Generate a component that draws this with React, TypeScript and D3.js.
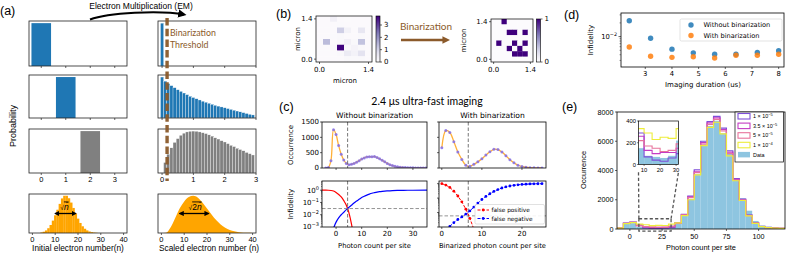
import React from 'react';
import * as d3 from 'd3';

const SANS = "'Liberation Sans', Arial, Helvetica, sans-serif";
const DV = "'DejaVu Sans', Verdana, sans-serif";
const CAL = "Lato, 'Open Sans', sans-serif";

// ---------------- panel (a) data ----------------
const aInitialN = [0, 1, 2];
const aInitialP = [1, 1, 1];
const aTicks03 = [0, 1, 2, 3];
const aScaledCenters = [0, 0.1, 0.2, 0.3, 0.4, 0.5, 0.6, 0.7, 0.8, 0.9, 1.0, 1.1, 1.2, 1.3, 1.4, 1.5, 1.6, 1.7, 1.8, 1.9, 2.0, 2.1, 2.2, 2.3, 2.4, 2.5, 2.6, 2.7, 2.8, 2.9];
const aScaledBinWidth = 0.1;
const aScaledRow1 = [1.0];
const aScaledRow2 = [1.0, 0.9, 0.84, 0.79, 0.74, 0.69, 0.65, 0.61, 0.57, 0.53, 0.5, 0.47, 0.44, 0.41, 0.385, 0.36, 0.335, 0.31, 0.29, 0.27, 0.25, 0.23, 0.21, 0.19, 0.17, 0.15, 0.13, 0.11, 0.09, 0.075];
const aScaledRow3 = [0, 0.25, 0.45, 0.6, 0.73, 0.82, 0.9, 0.95, 0.98, 0.995, 1.0, 0.995, 0.98, 0.96, 0.94, 0.91, 0.88, 0.84, 0.81, 0.77, 0.74, 0.7, 0.66, 0.63, 0.59, 0.56, 0.53, 0.49, 0.46, 0.43];
const aThreshold = 0.16;
const aPoissonN = [4, 5, 6, 7, 8, 9, 10, 11, 12, 13, 14, 15, 16, 17, 18, 19, 20, 21, 22, 23, 24, 25, 26, 27, 28];
const aPoissonP = [0.0016, 0.0036, 0.0073, 0.0136, 0.0228, 0.0353, 0.0504, 0.0663, 0.0829, 0.0984, 0.106, 0.106, 0.0989, 0.0866, 0.0713, 0.0554, 0.0409, 0.0286, 0.0191, 0.0121, 0.0074, 0.0043, 0.0024, 0.0013, 0.0007];
const aGainN = [0, 2, 4, 6, 8, 10, 12, 14, 16, 18, 20, 22, 24, 26, 28, 30, 32, 34, 36, 38, 40];
const aGainP = [0, 0.005, 0.15, 0.4, 0.66, 0.85, 0.97, 1.0, 0.95, 0.82, 0.66, 0.5, 0.35, 0.23, 0.14, 0.08, 0.045, 0.02, 0.01, 0.004, 0];
const aTicks40 = [0, 10, 20, 30, 40];
const aWidthLeft = [10, 19];
const aWidthRight = [8, 20.7];

// ---------------- panel (b) data ----------------
const bRaw = [
  [0.05, 0.05, 0.35, 0.05, 0.03, 0.05, 0.05, 0.05],
  [0.05, 0.05, 0.05, 0.08, 0.05, 0.05, 0.05, 0.05],
  [0.05, 0.05, 0.05, 1.1, 0.3, 0.05, 0.6, 0.05],
  [0.05, 0.05, 0.08, 0.1, 0.05, 0.05, 0.1, 0.05],
  [0.05, 1.4, 0.05, 0.1, 0.35, 0.1, 1.3, 0.05],
  [0.05, 0.05, 0.1, 3.7, 0.1, 0.25, 0.1, 0.05],
  [0.05, 0.05, 0.05, 0.1, 0.5, 0.3, 0.7, 0.05],
  [0.05, 0.05, 0.05, 0.05, 0.1, 0.1, 0.1, 0.05],
];
const bBinary = [
  [0, 0, 1, 0, 0, 0, 0, 0],
  [0, 0, 0, 0, 0, 0, 0, 0],
  [0, 0, 0, 1, 1, 0, 1, 0],
  [0, 0, 0, 0, 0, 0, 0, 0],
  [0, 1, 0, 0, 1, 0, 1, 0],
  [0, 0, 0, 1, 0, 1, 0, 0],
  [0, 0, 0, 0, 1, 1, 1, 0],
  [0, 0, 0, 0, 0, 0, 0, 0],
];
const bRawMax = 3.73;
const bMicronTicks = [0, 1.4];
const bCbarTicks1 = [0, 1, 2, 3];
const bCbarTicks2 = [0, 1];

// ---------------- panel (c) data ----------------
const cLeftX = [-4, -3, -2, -1, 0, 1, 2, 3, 4, 5, 6, 7, 8, 9, 10, 11, 12, 13, 14, 15, 16, 17, 18, 19, 20, 21, 22, 23, 24, 25, 26, 27, 28, 29, 30, 31, 32, 33, 34, 35];
const cLeftOcc = [0, 20, 240, 1250, 1090, 730, 450, 260, 150, 110, 120, 150, 190, 240, 290, 330, 360, 370, 365, 375, 340, 300, 250, 200, 150, 110, 80, 55, 40, 28, 20, 14, 10, 7, 5, 4, 3, 2, 2, 1];
const cRightX = [0, 1, 2, 3, 4, 5, 6, 7, 8, 9, 10, 11, 12, 13, 14, 15, 16, 17, 18, 19, 20, 21, 22, 23, 24, 25];
const cRightOcc = [660, 1220, 1160, 860, 520, 280, 90, 55, 120, 200, 300, 420, 530, 610, 600, 520, 400, 270, 170, 90, 50, 25, 12, 6, 3, 1];
const cLeftFpX = [-5.5, -5, -4, -3, -2, -1, 0, 1, 2, 3, 4, 5, 6, 6.5];
const cLeftFp = [1, 1, 1, 0.99, 0.95, 0.85, 0.65, 0.45, 0.28, 0.14, 0.06, 0.015, 0.0018, 0.0005];
const cLeftFnX = [-1, 0, 1, 2, 3, 4, 5, 6, 7, 8, 9, 10, 11, 12, 13, 14, 15, 16, 17, 18, 19, 20, 22, 24, 26, 28, 30, 35.5];
const cLeftFn = [0.0008, 0.0025, 0.0055, 0.01, 0.016, 0.026, 0.04, 0.06, 0.09, 0.13, 0.18, 0.25, 0.32, 0.4, 0.48, 0.56, 0.63, 0.7, 0.76, 0.81, 0.85, 0.88, 0.93, 0.96, 0.98, 0.99, 0.995, 1.0];
const cRightFpX = [0, 1, 2, 3, 4, 5, 6, 7, 8];
const cRightFp = [1.0, 0.8, 0.55, 0.3, 0.14, 0.055, 0.017, 0.004, 0.0007];
const cRightFnX = [2, 3, 4, 5, 6, 7, 8, 9, 10, 11, 12, 13, 14, 15, 16, 17, 18, 19, 20, 21, 22, 23, 24, 25];
const cRightFn = [0.0011, 0.002, 0.0033, 0.005, 0.0078, 0.013, 0.024, 0.045, 0.08, 0.13, 0.2, 0.29, 0.39, 0.5, 0.6, 0.69, 0.77, 0.83, 0.88, 0.92, 0.95, 0.97, 0.98, 0.99];
const cLeftThreshold = 4.5;
const cRightThreshold = 6.6;
const cLeftInfidelity = 0.032;
const cRightInfidelity = 0.0059;
const cOccTicks = [0, 500, 1000, 1500];
const cLeftXTicks = [0, 10, 20, 30];
const cRightXTicks = [0, 10, 20];
const cLogTicks = [1, 0.1, 0.01, 0.001];
const cLogLabels = ['0', '−1', '−2', '−3'];

// ---------------- panel (d) data ----------------
const dDuration = [2.4, 3.2, 4.0, 4.8, 5.6, 6.4, 7.2, 8.0];
const dWithout = [0.0223, 0.0092, 0.0053, 0.0044, 0.0041, 0.0041, 0.0045, 0.0049];
const dWith = [0.0059, 0.0037, 0.0035, 0.0036, 0.0034, 0.0039, 0.0039, 0.0041];
const dXTicks = [3, 4, 5, 6, 7, 8];
const dMinorTicks = [0.003, 0.004, 0.005, 0.006, 0.007, 0.008, 0.009, 0.02, 0.03];

// ---------------- panel (e) data ----------------
const eBinEdges = [-10, -5, 0, 5, 10, 15, 20, 25, 30, 35, 40, 45, 50, 55, 60, 65, 70, 75, 80, 85, 90, 95, 100, 105, 110, 115, 120];
const eData = [60, 350, 400, 150, 80, 70, 60, 80, 220, 380, 900, 2050, 3750, 5750, 7050, 7400, 6550, 5150, 3450, 2100, 1250, 550, 230, 150, 80, 50];
const eModel1 = [60, 400, 470, 290, 70, 40, 30, 60, 100, 420, 1000, 2250, 4050, 6000, 7350, 7700, 6900, 5350, 3450, 2050, 950, 420, 180, 110, 60, 40];
const eModel2 = [60, 390, 460, 260, 130, 100, 110, 110, 150, 400, 980, 2200, 3950, 5900, 7250, 7600, 6800, 5250, 3400, 2000, 930, 410, 170, 100, 60, 40];
const eModel3 = [60, 380, 450, 220, 170, 150, 120, 130, 190, 390, 960, 2150, 3850, 5800, 7150, 7500, 6700, 5150, 3350, 1980, 920, 400, 170, 100, 60, 40];
const eModel4 = [60, 370, 440, 330, 290, 230, 250, 240, 330, 420, 920, 2000, 3700, 5700, 6950, 7300, 6500, 5000, 3300, 1950, 900, 390, 160, 100, 60, 40];
const eModelLabels = [['1', '−5'], ['3.5', '−5'], ['5', '−5'], ['1', '−4']];
const eXTicks = [0, 25, 50, 75, 100];
const eYTicks = [0, 2000, 4000, 6000, 8000];
const eInsetXTicks = [10, 20, 30];
const eInsetYTicks = [0, 200, 400];
const eZoomBox = [7, 32, -150, 700];

// ---------------- helpers ----------------
const Pow = ({ x, y, exp, fs, anchor = 'end', font = DV }: any) => (
  <text x={x} y={y} fontSize={fs} textAnchor={anchor} dy="0.35em" fontFamily={font}>
    10<tspan fontSize={fs * 0.72} dy={-fs * 0.45}>{exp}</tspan>
  </text>
);

function stepPath(edges: number[], vals: number[], x: any, y: any) {
  const pts: [number, number][] = [[x(edges[0]), y(0)]];
  vals.forEach((v, i) => {
    pts.push([x(edges[i]), y(v)]);
    pts.push([x(edges[i + 1]), y(v)]);
  });
  pts.push([x(edges[edges.length - 1]), y(0)]);
  return d3.line()(pts) || '';
}

// ---------------- panel (a) ----------------
function PanelA() {
  const xL = d3.scaleLinear().domain([-0.5, 3.5]).range([29, 127]);
  const xR = d3.scaleLinear().domain([-0.13, 3.0]).range([158, 256]);
  const rows = [[21, 66], [75, 118], [129, 173]];
  const yRows = rows.map(([t, b]) => d3.scaleLinear().domain([0, 1.05]).range([b, t]));
  const x4L = d3.scaleLinear().domain([-1.5, 41.5]).range([29, 127]);
  const x4R = d3.scaleLinear().domain([-1.5, 41.5]).range([158, 256]);
  const r4 = [194, 233];
  const y4L = d3.scaleLinear().domain([0, 0.111]).range([r4[1], r4[0]]);
  const y4R = d3.scaleLinear().domain([0, 1.05]).range([r4[1], r4[0]]);
  const rightData = [aScaledRow1, aScaledRow2, aScaledRow3];
  const leftColors = ['#1f77b4', '#1f77b4', '#808080'];
  const rightColors = ['#1f77b4', '#1f77b4', '#808080'];
  const gainArea = d3.area<number>()
    .x((d, i) => x4R(aGainN[i])).y0(y4R(0)).y1(d => y4R(d)).curve(d3.curveMonotoneX);
  const fs = 7.5;
  const arrowY4 = (r4[0] + r4[1]) / 2;
  return (
    <g fontFamily={SANS}>
      <defs>
        <marker id="ahBlack" viewBox="0 0 10 10" refX="7" refY="5" markerWidth="4.2" markerHeight="4.2" orient="auto">
          <path d="M0,0 L10,5 L0,10 z" fill="#000" />
        </marker>
        <marker id="ahSmall" viewBox="0 0 10 10" refX="8" refY="5" markerWidth="4" markerHeight="4" orient="auto-start-reverse">
          <path d="M0,0 L10,5 L0,10 z" fill="#000" />
        </marker>
      </defs>
      <text x={0} y={15} fontSize={12.5}>(a)</text>
      <text x={141} y={8.5} fontSize={8.5} textAnchor="middle">Electron Multiplication (EM)</text>
      <path d="M90,19.5 C108,12.5 160,10 184,14.5" fill="none" stroke="#000" strokeWidth={2} markerEnd="url(#ahBlack)" />
      <text transform="translate(16,126) rotate(-90)" fontSize={9} textAnchor="middle">Probability</text>

      {rows.map(([t, b], r) => (
        <g key={'L' + r}>
          <rect x={xL(aInitialN[r] - 0.4)} width={xL(0.8) - xL(0)} y={yRows[r](aInitialP[r])}
            height={yRows[r](0) - yRows[r](aInitialP[r])} fill={leftColors[r]} />
          <rect x={29} y={t} width={98} height={b - t} fill="none" stroke="#222" strokeWidth={0.8} />
          {aTicks03.map(tk => (
            <line key={tk} x1={xL(tk)} x2={xL(tk)} y1={b} y2={b + 2} stroke="#222" strokeWidth={0.7} />
          ))}
          {r === 2 && aTicks03.map(tk => (
            <text key={'t' + tk} x={xL(tk)} y={b + 9} fontSize={fs} textAnchor="middle">{tk}</text>
          ))}
        </g>
      ))}

      {rows.map(([t, b], r) => (
        <g key={'R' + r}>
          {rightData[r].map((v, i) => (
            <rect key={i} x={xR(aScaledCenters[i] - aScaledBinWidth / 2)} width={xR(aScaledBinWidth) - xR(0)}
              y={yRows[r](v)} height={yRows[r](0) - yRows[r](v)} fill={rightColors[r]} stroke="#fff" strokeWidth={0.3} />
          ))}
          <rect x={158} y={t} width={98} height={b - t} fill="none" stroke="#222" strokeWidth={0.8} />
          {aTicks03.map(tk => (
            <line key={tk} x1={xR(tk)} x2={xR(tk)} y1={b} y2={b + 2} stroke="#222" strokeWidth={0.7} />
          ))}
          {r === 2 && aTicks03.map(tk => (
            <text key={'t' + tk} x={xR(tk)} y={b + 9} fontSize={fs} textAnchor="middle">{tk}</text>
          ))}
        </g>
      ))}
      <line x1={xR(aThreshold)} x2={xR(aThreshold)} y1={18} y2={181} stroke="#8b5a2b" strokeWidth={3.4} strokeDasharray="7.5,3.2" opacity={0.95} />
      <text x={170} y={36} fontSize={8.8} fill="#8b5a2b" fontFamily={CAL}>Binarization</text>
      <text x={170} y={47.5} fontSize={8.8} fill="#8b5a2b" fontFamily={CAL}>Threshold</text>

      {/* row 4 left */}
      {aPoissonP.map((p, i) => (
        <rect key={i} x={x4L(aPoissonN[i] - 0.5)} width={x4L(1) - x4L(0) + 0.2} y={y4L(p)} height={y4L(0) - y4L(p)} fill="#ffa500" />
      ))}
      <rect x={29} y={r4[0]} width={98} height={r4[1] - r4[0]} fill="none" stroke="#222" strokeWidth={0.8} />
      {aTicks40.map(tk => (
        <g key={tk}>
          <line x1={x4L(tk)} x2={x4L(tk)} y1={r4[1]} y2={r4[1] + 2} stroke="#222" strokeWidth={0.7} />
          <text x={x4L(tk)} y={r4[1] + 9} fontSize={fs} textAnchor="middle">{tk}</text>
        </g>
      ))}
      <line x1={x4L(aWidthLeft[0])} x2={x4L(aWidthLeft[1])} y1={arrowY4} y2={arrowY4} stroke="#000" strokeWidth={1.3}
        markerStart="url(#ahSmall)" markerEnd="url(#ahSmall)" />
      <text x={x4L((aWidthLeft[0] + aWidthLeft[1]) / 2) - 1} y={arrowY4 - 4} fontSize={8.5} textAnchor="middle">
        <tspan fontSize={6.5}>√</tspan><tspan fontStyle="italic" textDecoration="overline">n̄</tspan>
      </text>
      <text x={78} y={251} fontSize={8.3} textAnchor="middle">Initial electron number(n)</text>

      {/* row 4 right */}
      <path d={gainArea(aGainP) || ''} fill="#ffa500" />
      <rect x={158} y={r4[0]} width={98} height={r4[1] - r4[0]} fill="none" stroke="#222" strokeWidth={0.8} />
      {aTicks40.map(tk => (
        <g key={tk}>
          <line x1={x4R(tk)} x2={x4R(tk)} y1={r4[1]} y2={r4[1] + 2} stroke="#222" strokeWidth={0.7} />
          <text x={x4R(tk)} y={r4[1] + 9} fontSize={fs} textAnchor="middle">{tk}</text>
        </g>
      ))}
      <line x1={x4R(aWidthRight[0])} x2={x4R(aWidthRight[1])} y1={arrowY4} y2={arrowY4} stroke="#000" strokeWidth={1.3}
        markerStart="url(#ahSmall)" markerEnd="url(#ahSmall)" />
      <text x={x4R((aWidthRight[0] + aWidthRight[1]) / 2) + 1} y={arrowY4 - 4} fontSize={8.5} textAnchor="middle">
        <tspan fontSize={6.5}>√</tspan><tspan textDecoration="overline">2<tspan fontStyle="italic">n̄</tspan></tspan>
      </text>
      <text x={209} y={251} fontSize={8.3} textAnchor="middle">Scaled electron number (n)</text>
    </g>
  );
}

// ---------------- panel (b) ----------------
function Heatmap({ data, x0, x1, y0, y1, color, showXLabel, ylabX }: any) {
  const idx = d3.range(8);
  const bx = d3.scaleBand<number>().domain(idx).range([x0, x1]);
  const by = d3.scaleBand<number>().domain(idx).range([y0, y1]);
  const mx = d3.scaleLinear().domain([-0.1, 1.5]).range([x0, x1]);
  const my = d3.scaleLinear().domain([-0.1, 1.5]).range([y1, y0]);
  return (
    <g>
      {data.map((row: number[], r: number) => row.map((v, c) => (
        <rect key={r + '-' + c} x={bx(c)} y={by(r)} width={bx.bandwidth() + 0.3} height={by.bandwidth() + 0.3} fill={color(v)} />
      )))}
      <rect x={x0} y={y0} width={x1 - x0} height={y1 - y0} fill="none" stroke="#000" strokeWidth={0.7} />
      {bMicronTicks.map(t => (
        <g key={t}>
          <line x1={mx(t)} x2={mx(t)} y1={y1} y2={y1 + 2} stroke="#000" strokeWidth={0.6} />
          <text x={mx(t)} y={y1 + 10} fontSize={7} textAnchor="middle">{t.toFixed(1)}</text>
          <line x1={x0 - 2} x2={x0} y1={my(t)} y2={my(t)} stroke="#000" strokeWidth={0.6} />
          <text x={x0 - 3.5} y={my(t)} dy="0.35em" fontSize={7} textAnchor="end">{t.toFixed(1)}</text>
        </g>
      ))}
      <text transform={`translate(${ylabX},${(y0 + y1) / 2}) rotate(-90)`} fontSize={7} textAnchor="middle">micron</text>
      {showXLabel && <text x={(x0 + x1) / 2 + 1} y={y1 + 21} fontSize={7} textAnchor="middle">micron</text>}
    </g>
  );
}

function Colorbar({ x, y0, y1, w, vmax, ticks, id }: any) {
  const s = d3.scaleLinear().domain([0, vmax]).range([y1, y0]);
  const stops = d3.range(0, 1.001, 0.1);
  return (
    <g>
      <defs>
        <linearGradient id={id} x1="0" y1="1" x2="0" y2="0">
          {stops.map(t => <stop key={t} offset={t} stopColor={d3.interpolatePurples(t)} />)}
        </linearGradient>
      </defs>
      <rect x={x} y={y0} width={w} height={y1 - y0} fill={`url(#${id})`} stroke="#000" strokeWidth={0.6} />
      {ticks.map((t: number) => (
        <g key={t}>
          <line x1={x + w} x2={x + w + 2} y1={s(t)} y2={s(t)} stroke="#000" strokeWidth={0.6} />
          <text x={x + w + 4} y={s(t)} dy="0.35em" fontSize={7}>{t}</text>
        </g>
      ))}
    </g>
  );
}

function PanelB() {
  const c1 = d3.scaleSequential(d3.interpolatePurples).domain([0, bRawMax]);
  const c2 = d3.scaleSequential(d3.interpolatePurples).domain([0, 1]);
  return (
    <g fontFamily={DV}>
      <defs>
        <marker id="ahBrown" viewBox="0 0 10 10" refX="2" refY="5" markerWidth="3.2" markerHeight="3.2" orient="auto">
          <path d="M0,0 L10,5 L0,10 z" fill="#8b5a2b" />
        </marker>
      </defs>
      <text x={276} y={18} fontSize={12.5} fontFamily={SANS}>(b)</text>
      <Heatmap data={bRaw} x0={316} x1={372} y0={16} y1={62} color={c1} showXLabel={true} ylabX={300} />
      <Colorbar x={376} y0={16} y1={62} w={4} vmax={bRawMax} ticks={bCbarTicks1} id="cb1" />
      <Heatmap data={bBinary} x0={491} x1={533} y0={19} y1={62} color={c2} showXLabel={false} ylabX={466} />
      <Colorbar x={536.5} y0={19} y1={62} w={4} vmax={1} ticks={bCbarTicks2} id="cb2" />
      <text x={426} y={30} fontSize={10} fill="#8b5a2b" textAnchor="middle" fontFamily={CAL}>Binarization</text>
      <line x1={401} x2={444} y1={40} y2={40} stroke="#8b5a2b" strokeWidth={2.4} markerEnd="url(#ahBrown)" />
    </g>
  );
}

// ---------------- panel (c) ----------------
function PanelC() {
  const xL = d3.scaleLinear().domain([-5.5, 35.5]).range([322, 427]);
  const xR = d3.scaleLinear().domain([-0.7, 26]).range([439, 546]);
  const yO = d3.scaleLinear().domain([0, 1500]).range([168, 122]);
  const yIL = d3.scaleLog().domain([1e-3, Math.pow(10, 0.75)]).range([227, 181]);
  const yIR = d3.scaleLog().domain([1e-3, 1.3]).range([227, 182]);
  const top = [122, 168], bot = [181, 227];
  const occL = d3.line<number>().x((d, i) => xL(cLeftX[i])).y(d => yO(d)).curve(d3.curveCatmullRom.alpha(0.5));
  const occR = d3.line<number>().x((d, i) => xR(cRightX[i])).y(d => yO(d)).curve(d3.curveCatmullRom.alpha(0.5));
  const fpL = d3.line<number>().x((d, i) => xL(cLeftFpX[i])).y(d => yIL(d)).curve(d3.curveMonotoneX);
  const fnL = d3.line<number>().x((d, i) => xL(cLeftFnX[i])).y(d => yIL(d)).curve(d3.curveMonotoneX);
  const fpR = d3.line<number>().x((d, i) => xR(cRightFpX[i])).y(d => yIR(d));
  const fnR = d3.line<number>().x((d, i) => xR(cRightFnX[i])).y(d => yIR(d));
  const frame = (x0: number, x1: number, y: number[]) => (
    <rect x={x0} y={y[0]} width={x1 - x0} height={y[1] - y[0]} fill="none" stroke="#000" strokeWidth={0.8} />
  );
  const minorL: number[] = [];
  const minorR: number[] = [];
  [0.001, 0.01, 0.1, 1].forEach(dec => [2, 3, 4, 5, 6, 7, 8, 9].forEach(m => {
    const v = dec * m;
    if (v < Math.pow(10, 0.75)) minorL.push(v);
    if (v < 1.3) minorR.push(v);
  }));
  const fs = 7;
  const mk = '#7b68ee';
  return (
    <g fontFamily={DV}>
      <defs>
        <clipPath id="clipTL"><rect x={322} y={top[0]} width={105} height={46} /></clipPath>
        <clipPath id="clipTR"><rect x={439} y={top[0]} width={107} height={46} /></clipPath>
        <clipPath id="clipBL"><rect x={322} y={bot[0]} width={105} height={46} /></clipPath>
        <clipPath id="clipBR"><rect x={439} y={bot[0]} width={107} height={46} /></clipPath>
      </defs>
      <text x={279} y={111} fontSize={12.5} fontFamily={SANS}>(c)</text>
      <text x={427} y={105} fontSize={10.5} textAnchor="middle" fontFamily={CAL}>2.4 μs ultra-fast imaging</text>
      <text x={374.5} y={118} fontSize={7.6} textAnchor="middle">Without binarization</text>
      <text x={492.5} y={118} fontSize={7.6} textAnchor="middle">With binarization</text>

      {/* top left */}
      <g clipPath="url(#clipTL)">
        <path d={occL(cLeftOcc) || ''} fill="none" stroke="#ffb038" strokeWidth={1.3} />
        {cLeftOcc.map((v, i) => <circle key={i} cx={xL(cLeftX[i])} cy={yO(v)} r={1.5} fill={mk} opacity={0.8} />)}
        <line x1={xL(cLeftThreshold)} x2={xL(cLeftThreshold)} y1={top[0]} y2={top[1]} stroke="#666" strokeWidth={0.9} strokeDasharray="3.5,2" />
      </g>
      {frame(322, 427, top)}
      {cOccTicks.map(t => (
        <g key={t}>
          <line x1={320} x2={322} y1={yO(t)} y2={yO(t)} stroke="#000" strokeWidth={0.6} />
          <text x={319} y={yO(t)} dy="0.35em" fontSize={fs} textAnchor="end">{t}</text>
        </g>
      ))}
      {cLeftXTicks.map(t => <line key={t} x1={xL(t)} x2={xL(t)} y1={top[1]} y2={top[1] + 2} stroke="#000" strokeWidth={0.6} />)}
      <text transform="translate(293,145) rotate(-90)" fontSize={7} textAnchor="middle">Occurrence</text>

      {/* top right */}
      <g clipPath="url(#clipTR)">
        <path d={occR(cRightOcc) || ''} fill="none" stroke="#ffb038" strokeWidth={1.3} />
        {cRightOcc.map((v, i) => <circle key={i} cx={xR(cRightX[i])} cy={yO(v)} r={1.5} fill={mk} opacity={0.8} />)}
        <line x1={xR(cRightThreshold)} x2={xR(cRightThreshold)} y1={top[0]} y2={top[1]} stroke="#666" strokeWidth={0.9} strokeDasharray="3.5,2" />
      </g>
      {frame(439, 546, top)}
      {cOccTicks.map(t => <line key={t} x1={437} x2={439} y1={yO(t)} y2={yO(t)} stroke="#000" strokeWidth={0.6} />)}
      {cRightXTicks.map(t => <line key={t} x1={xR(t)} x2={xR(t)} y1={top[1]} y2={top[1] + 2} stroke="#000" strokeWidth={0.6} />)}

      {/* bottom left */}
      <g clipPath="url(#clipBL)">
        <path d={fpL(cLeftFp) || ''} fill="none" stroke="#ff0000" strokeWidth={1.2} />
        <path d={fnL(cLeftFn) || ''} fill="none" stroke="#0000ff" strokeWidth={1.2} />
        <line x1={xL(cLeftThreshold)} x2={xL(cLeftThreshold)} y1={bot[0]} y2={bot[1]} stroke="#666" strokeWidth={0.9} strokeDasharray="3.5,2" />
        <line x1={322} x2={427} y1={yIL(cLeftInfidelity)} y2={yIL(cLeftInfidelity)} stroke="#888" strokeWidth={0.9} strokeDasharray="3.5,2" />
      </g>
      {frame(322, 427, bot)}
      {cLogTicks.map((t, i) => (
        <g key={t}>
          <line x1={320} x2={322} y1={yIL(t)} y2={yIL(t)} stroke="#000" strokeWidth={0.6} />
          <Pow x={319} y={yIL(t)} exp={cLogLabels[i]} fs={fs} />
        </g>
      ))}
      {minorL.map(t => <line key={t} x1={321} x2={322} y1={yIL(t)} y2={yIL(t)} stroke="#000" strokeWidth={0.4} />)}
      {cLeftXTicks.map(t => (
        <g key={t}>
          <line x1={xL(t)} x2={xL(t)} y1={bot[1]} y2={bot[1] + 2} stroke="#000" strokeWidth={0.6} />
          <text x={xL(t)} y={bot[1] + 8.5} fontSize={fs} textAnchor="middle">{t}</text>
        </g>
      ))}
      <text transform="translate(293,204) rotate(-90)" fontSize={7} textAnchor="middle">Infidelity</text>
      <text x={374.5} y={248} fontSize={6.8} textAnchor="middle">Photon count per site</text>

      {/* bottom right */}
      <g clipPath="url(#clipBR)">
        <line x1={xR(cRightThreshold)} x2={xR(cRightThreshold)} y1={bot[0]} y2={bot[1]} stroke="#666" strokeWidth={0.9} strokeDasharray="3.5,2" />
        <line x1={439} x2={546} y1={yIR(cRightInfidelity)} y2={yIR(cRightInfidelity)} stroke="#888" strokeWidth={0.9} strokeDasharray="3.5,2" />
        <path d={fpR(cRightFp) || ''} fill="none" stroke="#ff0000" strokeWidth={1} strokeDasharray="3,1.5" />
        {cRightFp.map((v, i) => <circle key={i} cx={xR(cRightFpX[i])} cy={yIR(v)} r={1.4} fill="#ff0000" />)}
        <path d={fnR(cRightFn) || ''} fill="none" stroke="#0000ff" strokeWidth={1} strokeDasharray="3,1.5" />
        {cRightFn.map((v, i) => <circle key={i} cx={xR(cRightFnX[i])} cy={yIR(v)} r={1.4} fill="#0000ff" />)}
      </g>
      {frame(439, 546, bot)}
      {cLogTicks.map(t => <line key={t} x1={437} x2={439} y1={yIR(t)} y2={yIR(t)} stroke="#000" strokeWidth={0.6} />)}
      {minorR.map(t => <line key={t} x1={438} x2={439} y1={yIR(t)} y2={yIR(t)} stroke="#000" strokeWidth={0.4} />)}
      {cRightXTicks.map(t => (
        <g key={t}>
          <line x1={xR(t)} x2={xR(t)} y1={bot[1]} y2={bot[1] + 2} stroke="#000" strokeWidth={0.6} />
          <text x={xR(t)} y={bot[1] + 8.5} fontSize={fs} textAnchor="middle">{t}</text>
        </g>
      ))}
      <text x={492.5} y={248} fontSize={6.8} textAnchor="middle">Binarized photon count per site</text>
      {/* legend */}
      <rect x={475} y={204.5} width={69.5} height={19.5} fill="#fff" fillOpacity={0.9} stroke="#ccc" strokeWidth={0.6} rx={1.5} />
      <line x1={477.5} x2={489} y1={210} y2={210} stroke="#ff0000" strokeWidth={1} strokeDasharray="3,1.5" />
      <circle cx={483.2} cy={210} r={1.4} fill="#ff0000" />
      <text x={491.5} y={210} dy="0.35em" fontSize={5.8}>false positive</text>
      <line x1={477.5} x2={489} y1={218.5} y2={218.5} stroke="#0000ff" strokeWidth={1} strokeDasharray="3,1.5" />
      <circle cx={483.2} cy={218.5} r={1.4} fill="#0000ff" />
      <text x={491.5} y={218.5} dy="0.35em" fontSize={5.8}>false negative</text>
    </g>
  );
}

// ---------------- panel (d) ----------------
function PanelD() {
  const x = d3.scaleLinear().domain([2.09, 8.2]).range([621, 784]);
  const y = d3.scaleLog().domain([2.15e-3, 3.3e-2]).range([67, 13]);
  return (
    <g fontFamily={DV}>
      <text x={564} y={19} fontSize={12.5} fontFamily={SANS}>(d)</text>
      {dWithout.map((v, i) => <circle key={'a' + i} cx={x(dDuration[i])} cy={y(v)} r={2.7} fill="#1f77b4" opacity={0.85} />)}
      {dWith.map((v, i) => <circle key={'b' + i} cx={x(dDuration[i])} cy={y(v)} r={2.7} fill="#ff7f0e" opacity={0.85} />)}
      <rect x={621} y={13} width={163} height={54} fill="none" stroke="#000" strokeWidth={0.8} />
      {dXTicks.map(t => (
        <g key={t}>
          <line x1={x(t)} x2={x(t)} y1={67} y2={69} stroke="#000" strokeWidth={0.6} />
          <text x={x(t)} y={75.5} fontSize={6.8} textAnchor="middle">{t}</text>
        </g>
      ))}
      <line x1={618.5} x2={621} y1={y(0.01)} y2={y(0.01)} stroke="#000" strokeWidth={0.6} />
      <Pow x={617} y={y(0.01)} exp="−2" fs={6.8} />
      {dMinorTicks.map(t => <line key={t} x1={619.5} x2={621} y1={y(t)} y2={y(t)} stroke="#000" strokeWidth={0.4} />)}
      <text transform="translate(593,40) rotate(-90)" fontSize={7} textAnchor="middle">Infidelity</text>
      <text x={703} y={87} fontSize={7} textAnchor="middle">Imaging duration (us)</text>
      <rect x={680} y={19} width={102} height={22} fill="#fff" fillOpacity={0.85} stroke="#d0d0d0" strokeWidth={0.6} rx={1.5} />
      <circle cx={691} cy={25} r={2.7} fill="#1f77b4" opacity={0.85} />
      <text x={703.5} y={25} dy="0.35em" fontSize={6.6}>Without binarization</text>
      <circle cx={691} cy={35.5} r={2.7} fill="#ff7f0e" opacity={0.85} />
      <text x={703.5} y={35.5} dy="0.35em" fontSize={6.6}>With binarization</text>
    </g>
  );
}

// ---------------- panel (e) ----------------
function PanelE() {
  const x = d3.scaleLinear().domain([-10, 120.5]).range([617, 785]);
  const y = d3.scaleLinear().domain([0, 8000]).range([229, 112]);
  const xi = d3.scaleLinear().domain([6.5, 31.5]).range([638.5, 678.5]);
  const yi = d3.scaleLinear().domain([0, 400]).range([164.5, 121]);
  const models = [eModel1, eModel2, eModel3, eModel4];
  const colors = ['#7d4fd8', '#c43cc4', '#e8749c', '#eded3a'];
  const dataFill = '#8ec5e0';
  const bars = (xs: any, ys: any) => eData.map((v, i) => (
    <rect key={i} x={xs(eBinEdges[i])} width={xs(eBinEdges[i + 1]) - xs(eBinEdges[i])} y={ys(v)} height={ys(0) - ys(v)} fill={dataFill} />
  ));
  const fs = 7.2;
  return (
    <g fontFamily={SANS}>
      <defs>
        <clipPath id="clipE"><rect x={617} y={112} width={168} height={117} /></clipPath>
        <clipPath id="clipI"><rect x={638.5} y={121} width={40} height={43.5} /></clipPath>
      </defs>
      <text x={562} y={111} fontSize={12.5}>(e)</text>
      <g clipPath="url(#clipE)">
        {bars(x, y)}
        {models.map((m, k) => <path key={k} d={stepPath(eBinEdges, m, x, y)} fill="none" stroke={colors[k]} strokeWidth={1.2} />)}
      </g>
      <rect x={617} y={112} width={168} height={117} fill="none" stroke="#000" strokeWidth={0.8} />
      {eYTicks.map(t => (
        <g key={t}>
          <line x1={615} x2={617} y1={y(t)} y2={y(t)} stroke="#000" strokeWidth={0.6} />
          <text x={613.5} y={y(t)} dy="0.35em" fontSize={fs} textAnchor="end">{t}</text>
        </g>
      ))}
      {eXTicks.map(t => (
        <g key={t}>
          <line x1={x(t)} x2={x(t)} y1={229} y2={231} stroke="#000" strokeWidth={0.6} />
          <text x={x(t)} y={238.5} fontSize={fs} textAnchor="middle">{t}</text>
        </g>
      ))}
      <text transform="translate(586,170) rotate(-90)" fontSize={7.4} textAnchor="middle">Occurrence</text>
      <text x={701} y={250} fontSize={7.4} textAnchor="middle">Photon count per site</text>

      {/* zoom indicator */}
      <rect x={x(eZoomBox[0])} y={y(eZoomBox[3])} width={x(eZoomBox[1]) - x(eZoomBox[0])} height={y(eZoomBox[2]) - y(eZoomBox[3])}
        fill="none" stroke="#555" strokeWidth={1.3} strokeDasharray="3.2,2.2" />
      <line x1={x(eZoomBox[0])} y1={y(eZoomBox[3])} x2={638.5} y2={172} stroke="#555" strokeWidth={1.3} strokeDasharray="3.2,2.2" />
      <line x1={x(eZoomBox[1])} y1={y(eZoomBox[3])} x2={678.5} y2={172} stroke="#555" strokeWidth={1.3} strokeDasharray="3.2,2.2" />

      {/* inset */}
      <rect x={638.5} y={121} width={40} height={43.5} fill="#fff" />
      <g clipPath="url(#clipI)">
        {bars(xi, yi)}
        {models.map((m, k) => <path key={k} d={stepPath(eBinEdges, m, xi, yi)} fill="none" stroke={colors[k]} strokeWidth={1.1} />)}
      </g>
      <rect x={638.5} y={121} width={40} height={43.5} fill="none" stroke="#000" strokeWidth={0.7} />
      {eInsetYTicks.map(t => (
        <g key={t}>
          <line x1={637} x2={638.5} y1={yi(t)} y2={yi(t)} stroke="#000" strokeWidth={0.5} />
          <text x={636} y={yi(t)} dy="0.35em" fontSize={5.8} textAnchor="end">{t}</text>
        </g>
      ))}
      {eInsetXTicks.map(t => (
        <g key={t}>
          <line x1={xi(t)} x2={xi(t)} y1={164.5} y2={166} stroke="#000" strokeWidth={0.5} />
          <text x={xi(t)} y={171.5} fontSize={5.8} textAnchor="middle">{t}</text>
        </g>
      ))}

      {/* legend */}
      <rect x={735} y={112} width={48.5} height={50} fill="#fff" stroke="#000" strokeWidth={0.7} />
      {eModelLabels.map((lab, k) => (
        <g key={k}>
          <rect x={738} y={113.5 + k * 9.6} width={12} height={5.5} fill="none" stroke={colors[k]} strokeWidth={1.1} />
          <text x={753} y={116.3 + k * 9.6} dy="0.35em" fontSize={5.4}>
            {lab[0]} × 10<tspan fontSize={4} dy={-2.2}>{lab[1]}</tspan>
          </text>
        </g>
      ))}
      <rect x={738} y={113.5 + 4 * 9.6} width={12} height={5.5} fill={dataFill} />
      <text x={753} y={116.3 + 4 * 9.6} dy="0.35em" fontSize={5.4}>Data</text>
    </g>
  );
}

export default function App() {
  return (
    <svg width={800} height={262} viewBox="0 0 800 262"
      style={{ position: 'absolute', left: 0, top: 0, background: '#fff' }}>
      <rect x={0} y={0} width={800} height={262} fill="#fff" />
      <PanelA />
      <PanelB />
      <PanelC />
      <PanelD />
      <PanelE />
    </svg>
  );
}
